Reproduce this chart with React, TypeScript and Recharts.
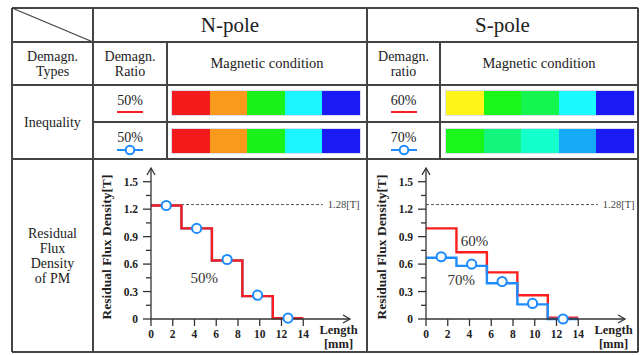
import React from "react";
import { ComposedChart, Line, Scatter, XAxis, YAxis, ReferenceLine, ReferenceDot } from "recharts";

// step edges along the magnet length [mm]
const stepX = [0, 2.8, 5.6, 8.4, 11.2, 14];
const nRed = [1.24, 0.99, 0.64, 0.25, 0.01, 0.01];
const nBlue = [1.24, 0.99, 0.64, 0.25, 0.01, 0.01];
const sRed = [0.99, 0.73, 0.51, 0.26, 0.015, 0.015];
const sBlue = [0.67, 0.58, 0.39, 0.16, 0, 0];

// circle markers (blue series) at segment centres
const markerX = [1.4, 4.2, 7.0, 9.8, 12.6];
const nMarkers = [1.24, 0.99, 0.65, 0.26, 0.01];
const sMarkers = [0.68, 0.6, 0.41, 0.17, 0];

const xTicks = [0, 2, 4, 6, 8, 10, 12, 14];
const yTicks = [0, 0.15, 0.3, 0.45, 0.6, 0.75, 0.9, 1.05, 1.2, 1.35, 1.5];
const refLevel = 1.25;
const refLabel = "1.28[T]";

const nLabels = [{ text: "50%", x: 4.9, y: 0.45 }];
const sLabels = [
  { text: "60%", x: 4.45, y: 0.85 },
  { text: "70%", x: 3.25, y: 0.43 },
];

// magnetic condition colour strips
const nBar1 = ["#F21A1A", "#F99A1C", "#1AF21A", "#1AF5FF", "#1A1AF5"];
const nBar2 = ["#F21A1A", "#F99A1C", "#1AF21A", "#1AF5FF", "#1A1AF5"];
const sBar1 = ["#FFF51A", "#1AF51A", "#14F550", "#1AFAFF", "#1A1AF5"];
const sBar2 = ["#1AF51A", "#14F57E", "#14FFCC", "#14AAF5", "#1A1AF5"];

const RED = "#FA1E1E";
const BLUE = "#1E8CFF";
const AXIS = "#333";
const SERIF = '"Liberation Serif", "Times New Roman", serif';

const YTick = (props: any) => {
  const { x, y, payload } = props;
  const v = payload.value;
  const major = Math.round(v * 100) % 30 === 0;
  return (
    <g>
      <line x1={x - (major ? 8 : 5)} x2={x} y1={y} y2={y} stroke={AXIS} strokeWidth={1.3} />
      {major && (
        <text x={x - 13} y={y} dy={4} textAnchor="end" fontFamily={SERIF} fontWeight="bold" fontSize={11.5} fill="#222">
          {v === 0 ? "0" : v.toFixed(1)}
        </text>
      )}
    </g>
  );
};

const XTick = (props: any) => {
  const { x, y, payload } = props;
  return (
    <g>
      <line x1={x} x2={x} y1={y} y2={y + 7} stroke={AXIS} strokeWidth={1.3} />
      <text x={x} y={y + 19} textAnchor="middle" fontFamily={SERIF} fontWeight="bold" fontSize={11.5} fill="#222">
        {payload.value}
      </text>
    </g>
  );
};

const Ring = (p: any) => (
  <circle cx={p.cx} cy={p.cy} r={4.6} fill="#fff" stroke={BLUE} strokeWidth={2} />
);

interface ChartProps {
  left: number;
  red: number[];
  blue: number[];
  markers: number[];
  labels: { text: string; x: number; y: number }[];
  redOnTop: boolean;
}

const StepChart = ({ left, red, blue, markers, labels, redOnTop }: ChartProps) => {
  const redData = stepX.map((x, i) => ({ x, y: red[i] }));
  const blueData = stepX.map((x, i) => ({ x, y: blue[i] }));
  const markerData = markerX.map((x, i) => ({ x, y: markers[i] }));
  const redLine = (
    <Line key="r" data={redData} type="stepAfter" dataKey="y" stroke={RED} strokeWidth={2.4} dot={false} isAnimationActive={false} />
  );
  const blueLine = (
    <Line key="b" data={blueData} type="stepAfter" dataKey="y" stroke={BLUE} strokeWidth={2.4} dot={false} isAnimationActive={false} />
  );
  return (
    <div style={{ position: "absolute", left, top: 160 }}>
      <ComposedChart width={262} height={190} margin={{ top: 8, right: 12, bottom: 0, left: 0 }}>
        <XAxis
          dataKey="x"
          type="number"
          domain={[0, 18.3]}
          ticks={xTicks}
          interval={0}
          height={31}
          tickSize={0}
          tickMargin={0}
          tickLine={false}
          axisLine={{ stroke: AXIS, strokeWidth: 1.3 }}
          tick={(p: any) => <XTick {...p} />}
        />
        <YAxis
          dataKey="y"
          type="number"
          domain={[0, 1.65]}
          ticks={yTicks}
          interval={0}
          width={51}
          tickSize={0}
          tickMargin={0}
          tickLine={false}
          axisLine={{ stroke: AXIS, strokeWidth: 1.3 }}
          tick={(p: any) => <YTick {...p} />}
        />
        <ReferenceLine
          segment={[{ x: 0, y: refLevel }, { x: 15.8, y: refLevel }]}
          stroke="#555"
          strokeDasharray="3 2"
          strokeWidth={1}
        />
        <ReferenceDot
          x={15.8}
          y={refLevel}
          shape={(p: any) => (
            <text x={p.cx + 5} y={p.cy + 3.5} fontFamily={SERIF} fontSize={10.5} fill="#444">
              {refLabel}
            </text>
          )}
        />
        {redOnTop ? [blueLine, redLine] : [redLine, blueLine]}
        <Scatter data={markerData} dataKey="y" shape={Ring} isAnimationActive={false} />
        {labels.map((l) => (
          <ReferenceDot
            key={l.text}
            x={l.x}
            y={l.y}
            shape={(p: any) => (
              <text x={p.cx} y={p.cy + 5} textAnchor="middle" fontFamily={SERIF} fontSize={15} fill="#333">
                {l.text}
              </text>
            )}
          />
        ))}
        {/* axis arrowheads */}
        <ReferenceDot
          x={18.3}
          y={0}
          shape={(p: any) => (
            <path d={`M${p.cx - 7},${p.cy - 4} L${p.cx},${p.cy} L${p.cx - 7},${p.cy + 4}`} fill="none" stroke={AXIS} strokeWidth={1.3} />
          )}
        />
        <ReferenceDot
          x={0}
          y={1.65}
          shape={(p: any) => (
            <path d={`M${p.cx - 4},${p.cy + 7} L${p.cx},${p.cy} L${p.cx + 4},${p.cy + 7}`} fill="none" stroke={AXIS} strokeWidth={1.3} />
          )}
        />
      </ComposedChart>
    </div>
  );
};

const Box = ({ x0, y0, x1, y1, lines, size = 14, lh = 15, bold = false }: any) => (
  <div
    style={{
      position: "absolute",
      left: x0,
      top: y0,
      width: x1 - x0,
      height: y1 - y0,
      display: "flex",
      flexDirection: "column",
      alignItems: "center",
      justifyContent: "center",
      fontFamily: SERIF,
      fontSize: size,
      lineHeight: `${lh}px`,
      fontWeight: bold ? "bold" : "normal",
      color: "#222",
      textAlign: "center",
      whiteSpace: "nowrap",
    }}
  >
    {lines.map((t: string) => (
      <div key={t}>{t}</div>
    ))}
  </div>
);

const Strip = ({ x, y, colors }: { x: number; y: number; colors: string[] }) => (
  <div style={{ position: "absolute", left: x, top: y, width: 188, height: 24, display: "flex", outline: "1px solid #dde" }}>
    {colors.map((c, i) => (
      <div key={i} style={{ flex: 1, background: c }} />
    ))}
  </div>
);

const RedMark = ({ cx, cy }: { cx: number; cy: number }) => (
  <div style={{ position: "absolute", left: cx - 13, top: cy - 1, width: 26, height: 2, background: RED }} />
);

const BlueMark = ({ cx, cy }: { cx: number; cy: number }) => (
  <svg style={{ position: "absolute", left: cx - 14, top: cy - 7 }} width={28} height={14}>
    <line x1={1} x2={27} y1={7} y2={7} stroke={BLUE} strokeWidth={2} />
    <circle cx={14} cy={7} r={4.3} fill="#fff" stroke={BLUE} strokeWidth={2} />
  </svg>
);

const H = ({ x0, x1, y }: any) => (
  <div style={{ position: "absolute", left: x0, top: y - 0.75, width: x1 - x0, height: 1.5, background: "#444" }} />
);
const V = ({ x, y0, y1 }: any) => (
  <div style={{ position: "absolute", left: x - 0.75, top: y0, width: 1.5, height: y1 - y0, background: "#444" }} />
);

export default function App() {
  return (
    <div style={{ position: "absolute", left: 0, top: 0, width: 643, height: 355, background: "#fff", overflow: "hidden" }}>
      {/* table grid */}
      <H x0={12} x1={638} y={8} />
      <H x0={12} x1={638} y={42} />
      <H x0={12} x1={638} y={85} />
      <H x0={93} x1={638} y={122} />
      <H x0={12} x1={638} y={159} />
      <H x0={12} x1={638} y={352} />
      <V x={12} y0={8} y1={352} />
      <V x={93} y0={8} y1={352} />
      <V x={167} y0={42} y1={159} />
      <V x={367} y0={8} y1={352} />
      <V x={440} y0={42} y1={159} />
      <V x={638} y0={8} y1={352} />
      <svg style={{ position: "absolute", left: 0, top: 0 }} width={100} height={50}>
        <line x1={12} y1={8} x2={93} y2={42} stroke="#444" strokeWidth={1.3} />
      </svg>

      <Box x0={93} y0={8} x1={367} y1={42} lines={["N-pole"]} size={21} lh={24} />
      <Box x0={367} y0={8} x1={638} y1={42} lines={["S-pole"]} size={21} lh={24} />

      <Box x0={12} y0={42} x1={93} y1={85} lines={["Demagn.", "Types"]} />
      <Box x0={93} y0={42} x1={167} y1={85} lines={["Demagn.", "Ratio"]} />
      <Box x0={167} y0={42} x1={367} y1={85} lines={["Magnetic condition"]} size={14.5} />
      <Box x0={367} y0={42} x1={440} y1={85} lines={["Demagn.", "ratio"]} />
      <Box x0={440} y0={42} x1={638} y1={85} lines={["Magnetic condition"]} size={14.5} />

      <Box x0={12} y0={85} x1={93} y1={159} lines={["Inequality"]} />
      <Box x0={93} y0={92} x1={167} y1={108} lines={["50%"]} />
      <RedMark cx={130} cy={112} />
      <Box x0={93} y0={129} x1={167} y1={145} lines={["50%"]} />
      <BlueMark cx={130} cy={150} />
      <Box x0={367} y0={92} x1={440} y1={108} lines={["60%"]} />
      <RedMark cx={404} cy={112} />
      <Box x0={367} y0={129} x1={440} y1={145} lines={["70%"]} />
      <BlueMark cx={404} cy={150} />

      <Strip x={172} y={91} colors={nBar1} />
      <Strip x={172} y={129} colors={nBar2} />
      <Strip x={446} y={91} colors={sBar1} />
      <Strip x={446} y={129} colors={sBar2} />

      <Box x0={12} y0={159} x1={93} y1={352} lines={["Residual", "Flux", "Density", "of PM"]} />

      <StepChart left={100} red={nRed} blue={nBlue} markers={nMarkers} labels={nLabels} redOnTop={true} />
      <StepChart left={375} red={sRed} blue={sBlue} markers={sMarkers} labels={sLabels} redOnTop={false} />

      {[100, 375].map((l) => (
        <React.Fragment key={l}>
          <div
            style={{
              position: "absolute",
              left: l + 7 - 80,
              top: 247 - 8,
              width: 160,
              height: 16,
              transform: "rotate(-90deg)",
              textAlign: "center",
              fontFamily: SERIF,
              fontWeight: "bold",
              fontSize: 13.5,
              lineHeight: "16px",
              color: "#222",
              whiteSpace: "nowrap",
            }}
          >
            Residual Flux Density[T]
          </div>
          <Box x0={l + 215} y0={322} x1={l + 262} y1={337} lines={["Length"]} size={12.5} lh={14} bold />
          <Box x0={l + 215} y0={337} x1={l + 262} y1={351} lines={["[mm]"]} size={12.5} lh={14} bold />
        </React.Fragment>
      ))}
    </div>
  );
}
